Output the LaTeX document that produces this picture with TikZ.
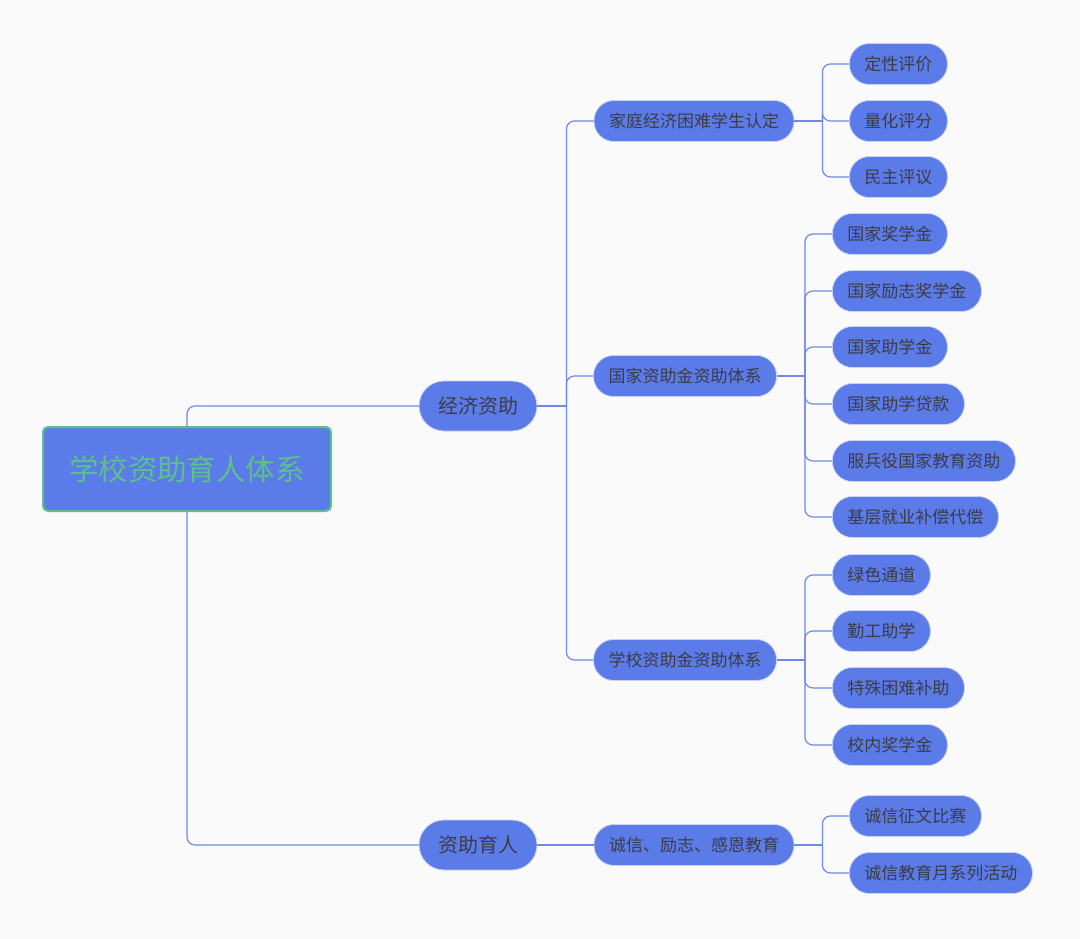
\documentclass[tikz,border=0pt]{standalone}
\usepackage{fontspec}
\setmainfont{Noto Sans CJK SC}
\usepackage{tikz}
\usetikzlibrary{positioning,calc}
\usepackage{xcolor}

\definecolor{bgcol}{HTML}{FAFAFA}
\definecolor{pillblue}{HTML}{5B7BE8}
\definecolor{pilledge}{HTML}{C9D2F2}
\definecolor{linkblue}{HTML}{6E89E6}
\definecolor{rootgreen}{HTML}{5CC08A}
\definecolor{txtgray}{HTML}{3C3C44}

\begin{document}
\begin{tikzpicture}[x=1pt, y=-1pt,
    pill/.style={draw=pilledge, line width=0.8pt, fill=pillblue, text=txtgray, rounded corners=20pt, minimum height=41pt, inner xsep=15pt, font=\fontsize{17}{20}\selectfont},
    bigpill/.style={pill, rounded corners=25pt, minimum height=50pt, inner xsep=19pt, font=\fontsize{20}{24}\selectfont},
    link/.style={draw=linkblue, line width=1.2pt, rounded corners=8pt}]
    \useasboundingbox[fill=bgcol] (0,0) rectangle (1080,939);

    % root
    \node[draw=rootgreen, line width=2pt, fill=pillblue, rounded corners=5pt, minimum width=288pt, minimum height=84pt, text=rootgreen, font=\fontsize{29.5}{34}\selectfont] (root) at (187,469) {学校资助育人体系};

    % first level
    \node[bigpill] (econ) at (478,406) {经济资助};
    \node[bigpill] (edu) at (478,845) {资助育人};

    % second level
    \node[pill] (rd) at (694,121) {家庭经济困难学生认定};
    \node[pill] (gj) at (685,376) {国家资助金资助体系};
    \node[pill] (xx) at (685,660) {学校资助金资助体系};
    \node[pill] (cx) at (694,845) {诚信、励志、感恩教育};

    % third level
    \node[pill, anchor=west] (dx) at (849,64) {定性评价};
    \node[pill, anchor=west] (lh) at (849,121) {量化评分};
    \node[pill, anchor=west] (mz) at (849,177) {民主评议};

    \node[pill, anchor=west] (gjj) at (832,234) {国家奖学金};
    \node[pill, anchor=west] (lz) at (832,291) {国家励志奖学金};
    \node[pill, anchor=west] (zxj) at (832,347) {国家助学金};
    \node[pill, anchor=west] (dk) at (832,404) {国家助学贷款};
    \node[pill, anchor=west] (fby) at (832,461) {服兵役国家教育资助};
    \node[pill, anchor=west] (jc) at (832,517) {基层就业补偿代偿};

    \node[pill, anchor=west] (ls) at (832,575) {绿色通道};
    \node[pill, anchor=west] (qg) at (832,631) {勤工助学};
    \node[pill, anchor=west] (ts) at (832,688) {特殊困难补助};
    \node[pill, anchor=west] (xn) at (832,745) {校内奖学金};

    \node[pill, anchor=west] (zw) at (849,816) {诚信征文比赛};
    \node[pill, anchor=west] (jyy) at (849,873) {诚信教育月系列活动};

    % connectors
    \draw[link] (root.north) |- (econ.west);
    \draw[link] (root.south) |- (edu.west);

    \coordinate (t1) at ($(econ.east)+(29,0)$);
    \draw[link] (econ.east) -- (t1);
    \foreach \c in {rd,gj,xx} \draw[link] (t1) |- (\c.west);

    \coordinate (t2) at ($(rd.east)+(28,0)$);
    \draw[link] (rd.east) -- (t2);
    \foreach \c in {dx,lh,mz} \draw[link] (t2) |- (\c.west);

    \coordinate (t3) at ($(gj.east)+(28,0)$);
    \draw[link] (gj.east) -- (t3);
    \foreach \c in {gjj,lz,zxj,dk,fby,jc} \draw[link] (t3) |- (\c.west);

    \coordinate (t4) at ($(xx.east)+(28,0)$);
    \draw[link] (xx.east) -- (t4);
    \foreach \c in {ls,qg,ts,xn} \draw[link] (t4) |- (\c.west);

    \draw[link] (edu.east) -- (cx.west);
    \coordinate (t5) at ($(cx.east)+(28,0)$);
    \draw[link] (cx.east) -- (t5);
    \foreach \c in {zw,jyy} \draw[link] (t5) |- (\c.west);
\end{tikzpicture}
\end{document}
